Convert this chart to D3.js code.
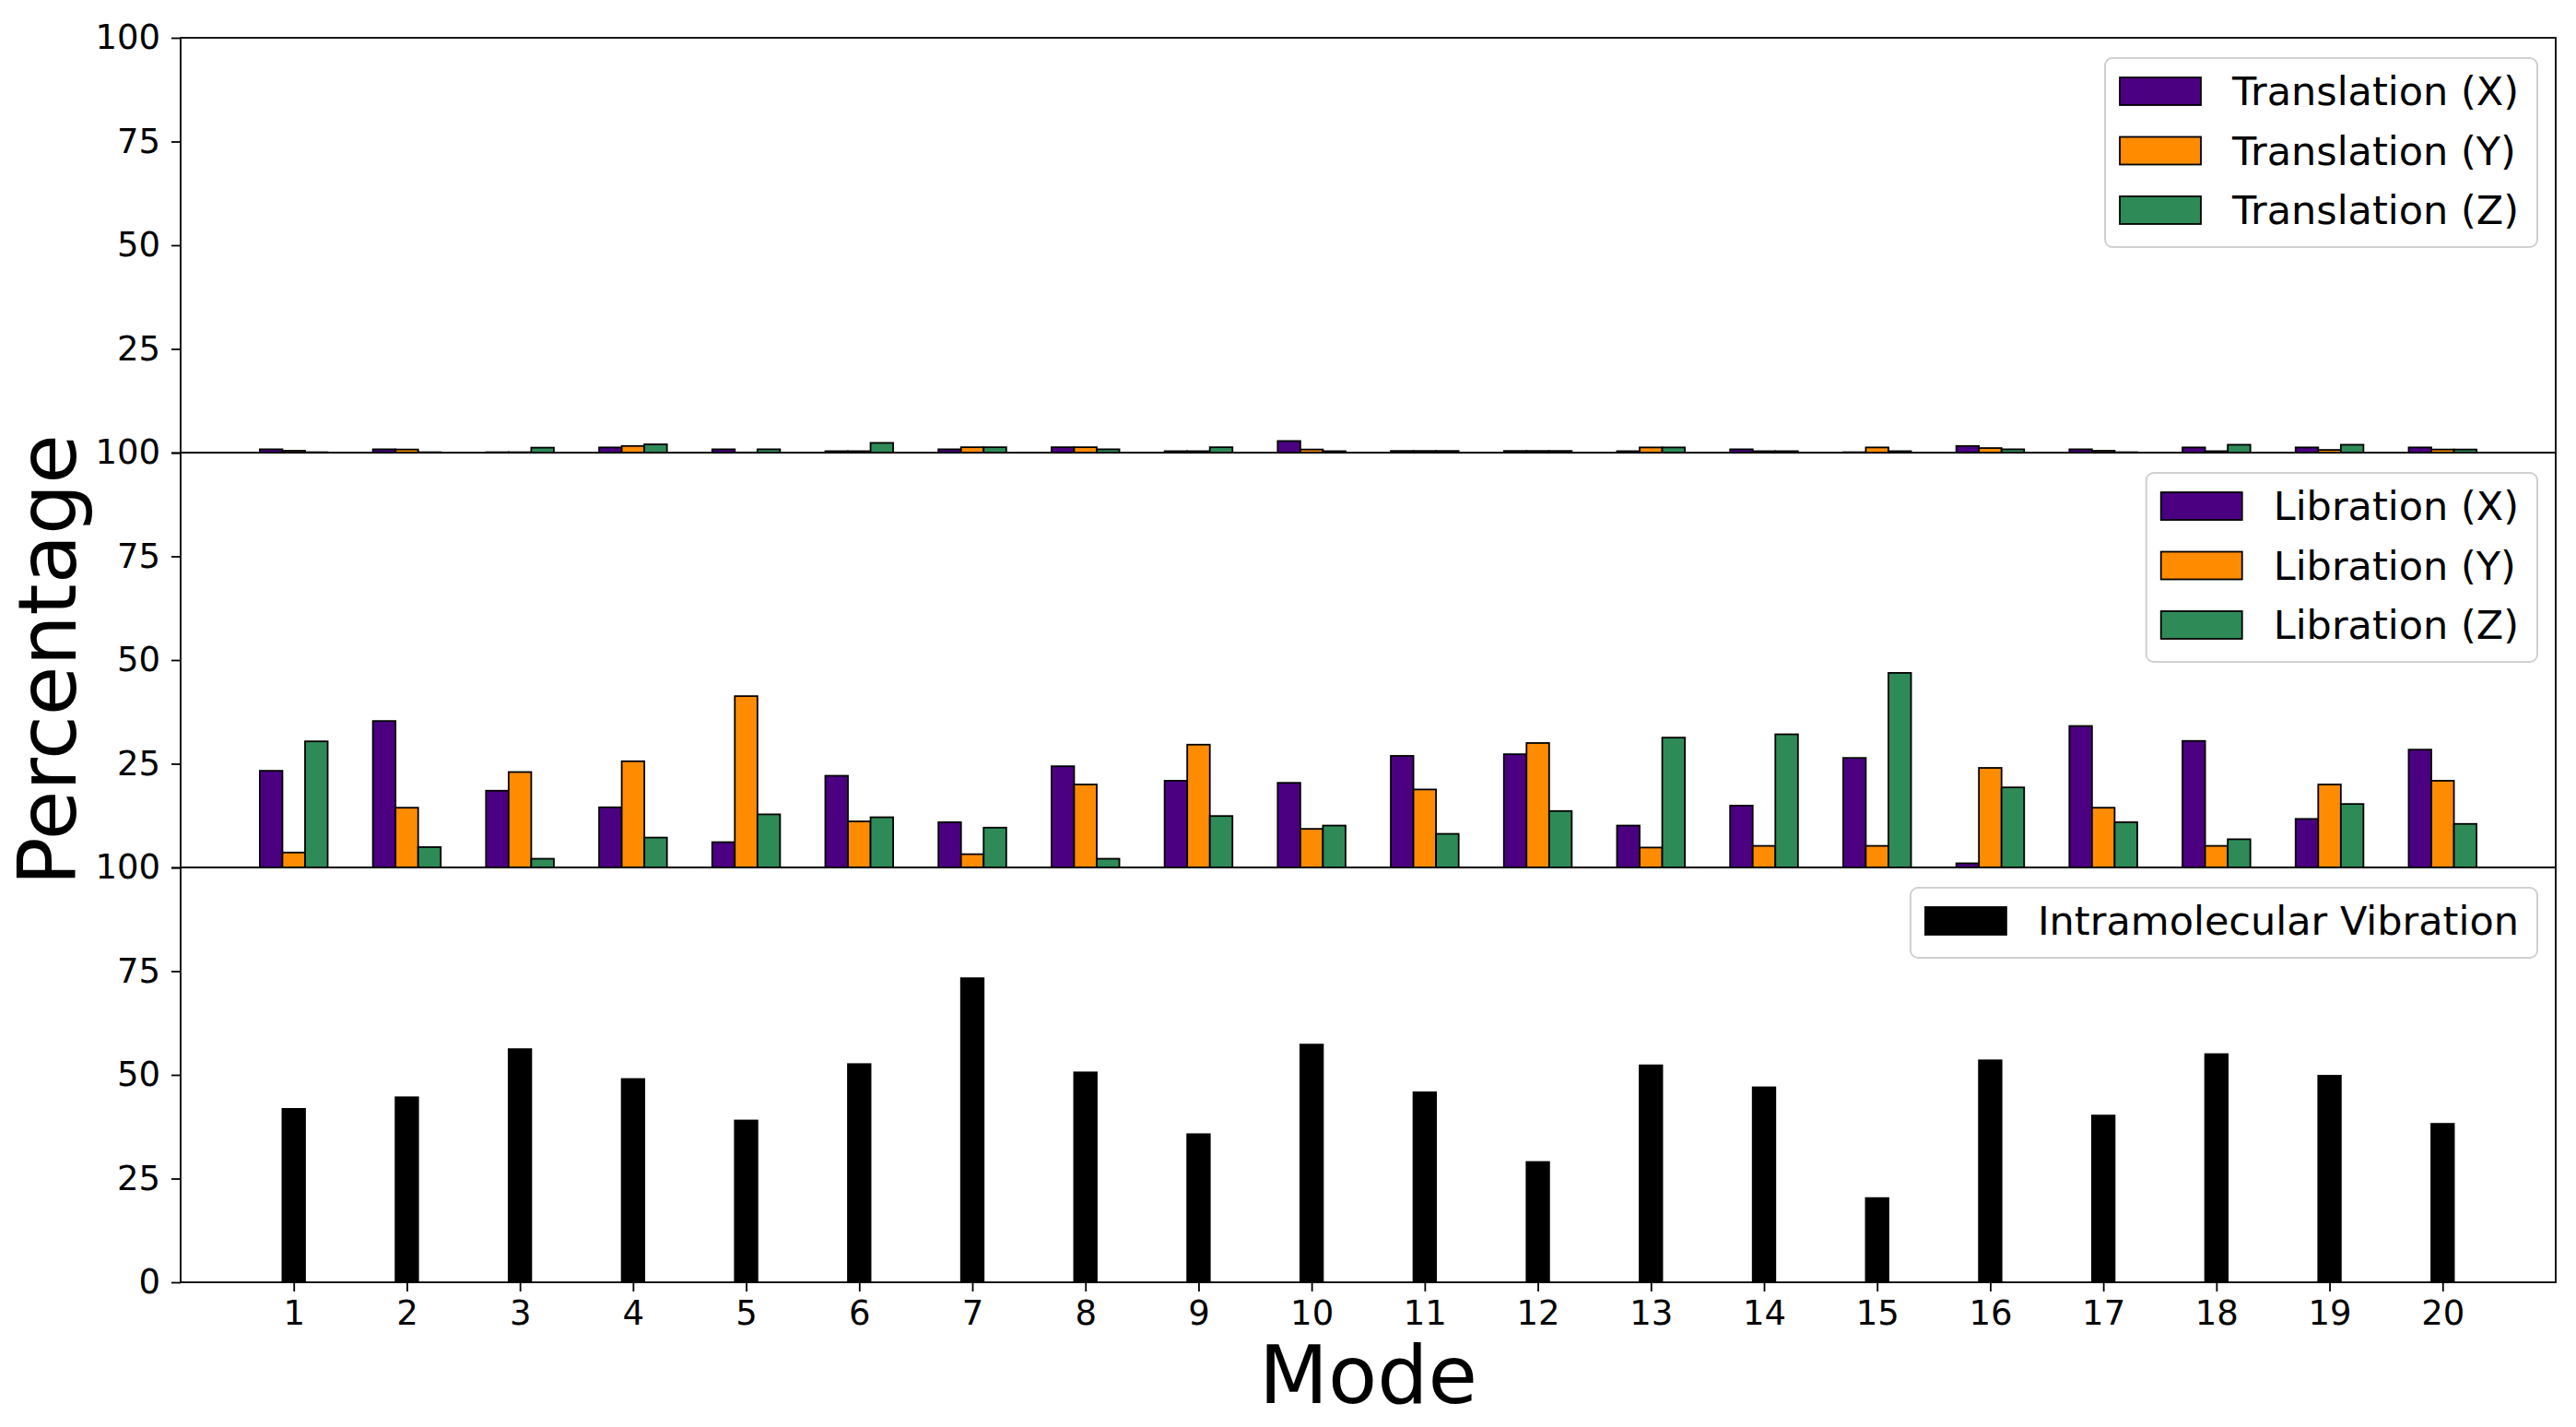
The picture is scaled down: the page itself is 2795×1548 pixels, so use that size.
<!DOCTYPE html>
<html>
<head>
<meta charset="utf-8">
<script src="https://cdn.jsdelivr.net/npm/d3@7"></script>
<style>
  body { margin: 0; background: #fff; }
  svg { display: block; font-family: "DejaVu Sans", sans-serif; }
</style>
</head>
<body>
<svg id="chart" width="2795" height="1548"></svg>
<script>
(() => {
    const modes = [1, 2, 3, 4, 5, 6, 7, 8, 9, 10, 11, 12, 13, 14, 15, 16, 17, 18, 19, 20];
    const yTicks = [0, 25, 50, 75, 100];

    const transX = [0.8, 0.8, 0.1, 1.25, 0.8, 0.35, 0.8, 1.3, 0.35, 2.8, 0.4, 0.4, 0.35, 0.8, 0.1, 1.6, 0.8, 1.25, 1.25, 1.25];
    const transY = [0.45, 0.75, 0.1, 1.6, 0.05, 0.35, 1.3, 1.3, 0.35, 0.75, 0.4, 0.4, 1.25, 0.35, 1.25, 1.1, 0.45, 0.35, 0.65, 0.75];
    const transZ = [0.1, 0.1, 1.2, 2.0, 0.8, 2.35, 1.3, 0.8, 1.3, 0.35, 0.4, 0.4, 1.25, 0.35, 0.35, 0.8, 0.1, 1.9, 1.9, 0.75];

    const libX = [23.3, 35.3, 18.5, 14.5, 6.1, 22.1, 10.9, 24.4, 20.9, 20.4, 26.9, 27.3, 10.1, 14.9, 26.4, 1.0, 34.1, 30.5, 11.7, 28.4];
    const libY = [3.6, 14.4, 23.0, 25.6, 41.3, 11.1, 3.2, 20.0, 29.6, 9.3, 18.8, 30.0, 4.8, 5.2, 5.2, 24.0, 14.4, 5.2, 20.0, 20.9];
    const libZ = [30.4, 4.9, 2.1, 7.2, 12.8, 12.1, 9.6, 2.1, 12.4, 10.1, 8.1, 13.6, 31.3, 32.1, 46.9, 19.3, 10.9, 6.8, 15.3, 10.5];

    const intra = [41.8, 44.6, 56.2, 49.0, 39.0, 52.6, 73.3, 50.6, 35.7, 57.3, 45.8, 29.0, 52.3, 47.0, 20.3, 53.5, 40.2, 55.0, 49.8, 38.2];

    const purple = "#4b0082", orange = "#ff8c00", green = "#2e8b57";

    const panels = [
        { series: [
            { name: "Translation (X)", values: transX, color: purple },
            { name: "Translation (Y)", values: transY, color: orange },
            { name: "Translation (Z)", values: transZ, color: green }] },
        { series: [
            { name: "Libration (X)", values: libX, color: purple },
            { name: "Libration (Y)", values: libY, color: orange },
            { name: "Libration (Z)", values: libZ, color: green }] },
        { series: [
            { name: "Intramolecular Vibration", values: intra, color: "#000000" }] }
    ];

    const svg = d3.select("#chart");
    const left = 196, right = 2773, top = 41, panelH = 450;
    const barW = 0.2;

    const x = d3.scaleLinear().domain([0, 21]).range([left, right]);

    panels.forEach((p, pi) => {
        const y0 = top + pi * panelH;
        const y = d3.scaleLinear().domain([0, 100]).range([y0 + panelH, y0]);
        const g = svg.append("g");
        const n = p.series.length;
        const isLast = pi === panels.length - 1;

        // bars
        p.series.forEach((s, si) => {
            const off = n === 1 ? 0 : (si - (n - 1) / 2) * barW;
            g.selectAll(null)
                .data(modes)
                .enter().append("rect")
                .attr("x", d => x(d + off - barW / 2))
                .attr("width", x(barW) - x(0))
                .attr("y", (d, i) => y(s.values[i]))
                .attr("height", (d, i) => y(0) - y(s.values[i]))
                .attr("fill", s.color)
                .attr("stroke", "#000")
                .attr("stroke-width", 1.8);
        });

        // y axis (the 0 of upper panels sits under the next panel's 100)
        const ay = g.append("g")
            .attr("transform", `translate(${left},0)`)
            .call(d3.axisLeft(y).tickValues(yTicks).tickSize(10).tickPadding(12)
                .tickFormat(d => (d === 0 && !isLast) ? "" : d));
        ay.select(".domain").remove();
        ay.selectAll(".tick line").attr("stroke-width", 1.8);
        ay.selectAll(".tick text").attr("font-size", 37).attr("font-family", "DejaVu Sans").attr("fill", "#000");

        // x axis on bottom panel only
        if (isLast) {
            const ax = g.append("g")
                .attr("transform", `translate(0,${y0 + panelH})`)
                .call(d3.axisBottom(x).tickValues(modes).tickFormat(d3.format("d")).tickSize(10).tickPadding(10));
            ax.select(".domain").remove();
            ax.selectAll(".tick line").attr("stroke-width", 1.8);
            ax.selectAll(".tick text").attr("font-size", 37).attr("font-family", "DejaVu Sans").attr("fill", "#000");
        }

        // frame
        g.append("rect")
            .attr("x", left).attr("y", y0)
            .attr("width", right - left).attr("height", panelH)
            .attr("fill", "none").attr("stroke", "#000").attr("stroke-width", 1.8);

        // legend
        const fs = 43, rowH = 64.5, pad = 16, patchW = 88, patchH = 30, gap = 34;
        const lg = svg.append("g");
        const box = lg.append("rect");
        const texts = p.series.map(s => lg.append("text")
            .attr("font-size", fs)
            .attr("dy", "0.35em")
            .attr("fill", "#000")
            .text(s.name));
        const tw = d3.max(texts, t => t.node().getComputedTextLength());
        const boxR = right - 20, boxT = y0 + 22;
        const boxW = pad + patchW + gap + tw + 20;
        const boxH = 76 + (n - 1) * rowH;
        const boxL = boxR - boxW;
        box.attr("x", boxL).attr("y", boxT).attr("width", boxW).attr("height", boxH)
            .attr("rx", 8).attr("fill", "#fff").attr("fill-opacity", 0.8)
            .attr("stroke", "#d0d0d0").attr("stroke-width", 2);
        p.series.forEach((s, si) => {
            const cy = boxT + 36 + si * rowH;
            lg.append("rect")
                .attr("x", boxL + pad).attr("y", cy - patchH / 2)
                .attr("width", patchW).attr("height", patchH)
                .attr("fill", s.color).attr("stroke", "#000").attr("stroke-width", 1.8);
            texts[si].attr("x", boxL + pad + patchW + gap).attr("y", cy);
        });
    });

    // axis titles
    svg.append("text")
        .attr("x", (left + right) / 2)
        .attr("y", 1522)
        .attr("text-anchor", "middle")
        .attr("font-size", 87)
        .text("Mode");

    svg.append("text")
        .attr("transform", `translate(82,${top + 1.5 * panelH}) rotate(-90)`)
        .attr("text-anchor", "middle")
        .attr("font-size", 87)
        .text("Percentage");
})();
</script>
</body>
</html>
